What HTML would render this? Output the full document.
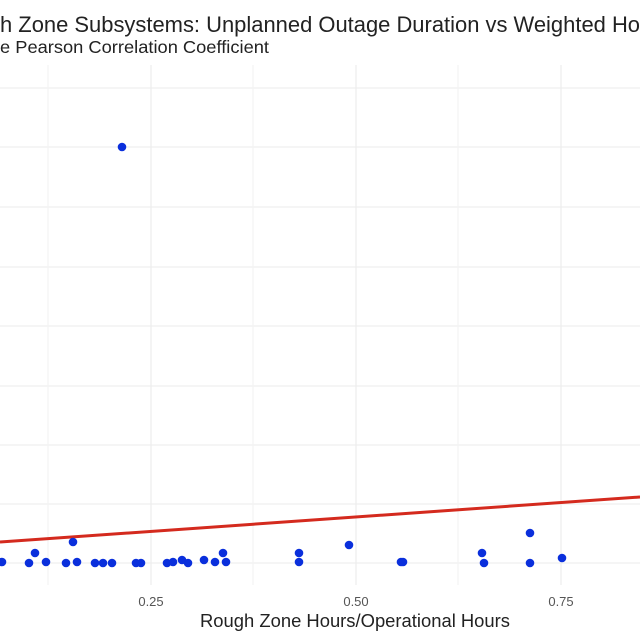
<!DOCTYPE html>
<html><head><style>body{margin:0;background:#fff}svg{display:block}</style></head><body>
<svg width="640" height="640" xmlns="http://www.w3.org/2000/svg" font-family="Liberation Sans, sans-serif">
<rect width="640" height="640" fill="#fff"/>
<g stroke="#ebebeb" stroke-width="1.1">
<line x1="0" y1="88" x2="640" y2="88"/><line x1="0" y1="147" x2="640" y2="147"/>
<line x1="0" y1="207" x2="640" y2="207"/><line x1="0" y1="267" x2="640" y2="267"/>
<line x1="0" y1="326" x2="640" y2="326"/><line x1="0" y1="386" x2="640" y2="386"/>
<line x1="0" y1="445" x2="640" y2="445"/><line x1="0" y1="504" x2="640" y2="504"/>
<line x1="0" y1="563" x2="640" y2="563"/>
<line x1="48" y1="65" x2="48" y2="585" stroke="#f3f3f3"/><line x1="151" y1="65" x2="151" y2="585"/>
<line x1="253" y1="65" x2="253" y2="585" stroke="#f3f3f3"/><line x1="356" y1="65" x2="356" y2="585"/>
<line x1="458" y1="65" x2="458" y2="585" stroke="#f3f3f3"/><line x1="561" y1="65" x2="561" y2="585"/>
</g>
<text x="0" y="32" font-size="22" fill="#222" textLength="640" lengthAdjust="spacingAndGlyphs">h Zone Subsystems: Unplanned Outage Duration vs Weighted Ho</text>
<text x="0" y="53" font-size="17.5" fill="#222" textLength="269" lengthAdjust="spacingAndGlyphs">e Pearson Correlation Coefficient</text>
<line x1="0" y1="542" x2="640" y2="497" stroke="#d42a1e" stroke-width="3"/>
<g fill="#0a2fdc">
<circle cx="122" cy="147" r="4.3"/>
<circle cx="2" cy="562" r="4.3"/><circle cx="29" cy="563" r="4.3"/><circle cx="35" cy="553" r="4.3"/>
<circle cx="46" cy="562" r="4.3"/><circle cx="66" cy="563" r="4.3"/><circle cx="73" cy="542" r="4.3"/>
<circle cx="77" cy="562" r="4.3"/><circle cx="95" cy="563" r="4.3"/><circle cx="103" cy="563" r="4.3"/>
<circle cx="112" cy="563" r="4.3"/><circle cx="136" cy="563" r="4.3"/><circle cx="141" cy="563" r="4.3"/>
<circle cx="167" cy="563" r="4.3"/><circle cx="173" cy="562" r="4.3"/><circle cx="182" cy="560" r="4.3"/>
<circle cx="188" cy="563" r="4.3"/><circle cx="204" cy="560" r="4.3"/><circle cx="215" cy="562" r="4.3"/>
<circle cx="223" cy="553" r="4.3"/><circle cx="226" cy="562" r="4.3"/><circle cx="299" cy="553" r="4.3"/>
<circle cx="299" cy="562" r="4.3"/><circle cx="349" cy="545" r="4.3"/><circle cx="401" cy="562" r="4.3"/>
<circle cx="403" cy="562" r="4.3"/><circle cx="482" cy="553" r="4.3"/><circle cx="484" cy="563" r="4.3"/>
<circle cx="530" cy="533" r="4.3"/><circle cx="530" cy="563" r="4.3"/><circle cx="562" cy="558" r="4.3"/>
</g>
<g font-size="13" fill="#555" text-anchor="middle">
<text x="151" y="606">0.25</text><text x="356" y="606">0.50</text><text x="561" y="606">0.75</text>
</g>
<text x="200" y="627" font-size="18" fill="#222" textLength="310" lengthAdjust="spacingAndGlyphs">Rough Zone Hours/Operational Hours</text>
</svg>
</body></html>
